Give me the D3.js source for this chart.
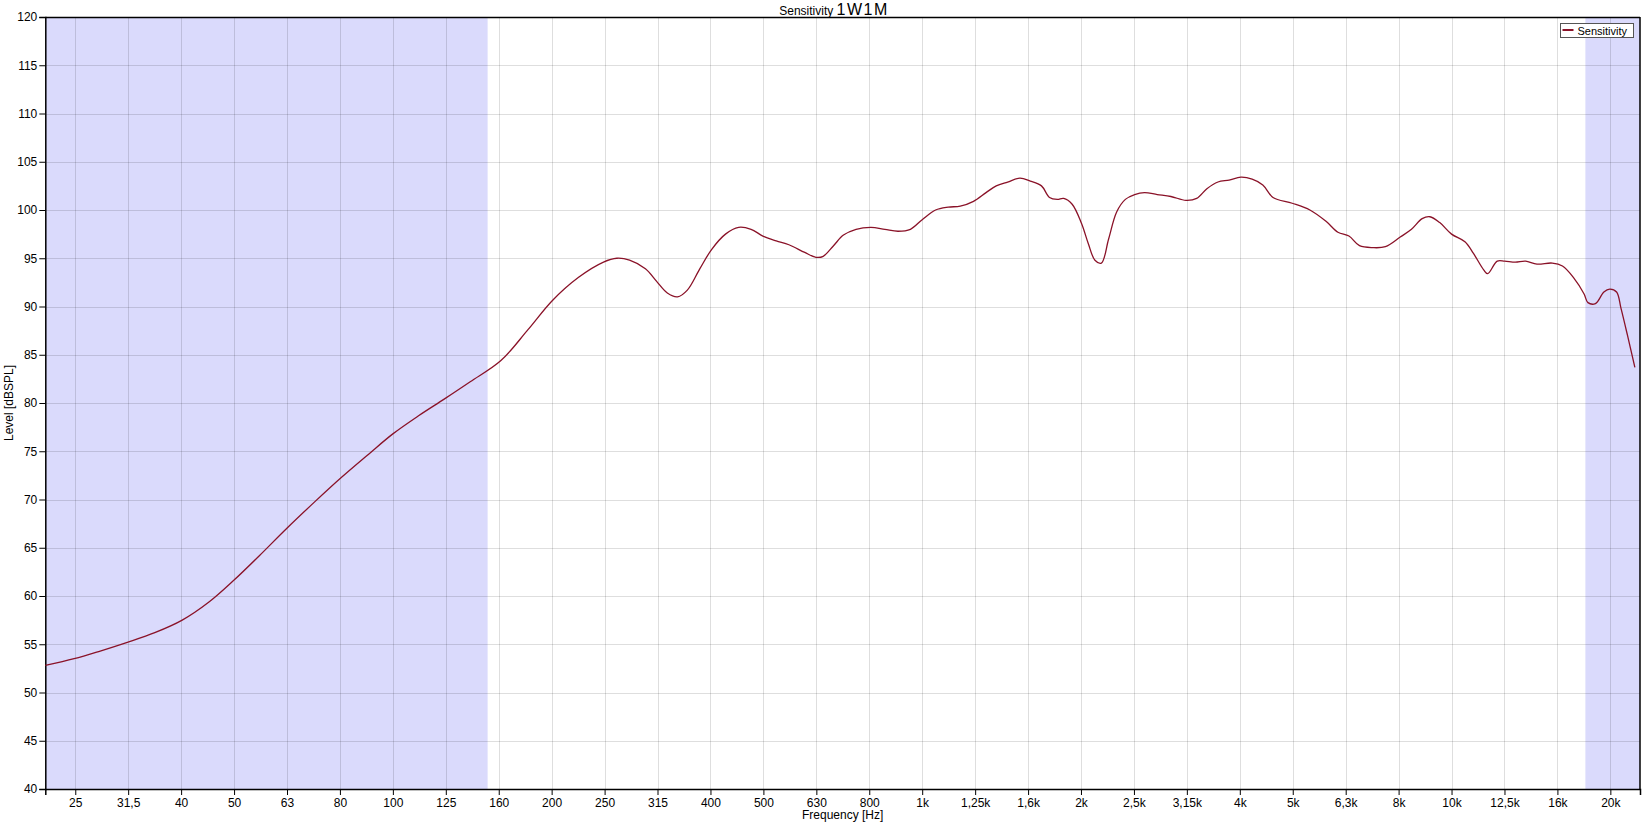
<!DOCTYPE html>
<html>
<head>
<meta charset="utf-8">
<script src="https://cdn.jsdelivr.net/npm/d3@7"></script>
<style>
  html, body { margin: 0; padding: 0; background: #fff; }
  svg { display: block; font-family: "Liberation Sans", Arial, sans-serif; }
</style>
</head>
<body>
<svg id="chart" width="1645" height="823"></svg>
<script>
// ---- data ----
const freqs = [22.05, 25, 28, 31.5, 35.5, 40, 45, 50, 56, 63, 71, 80, 90, 100, 112, 125, 140, 160, 180, 200, 224, 250, 265, 280, 300, 315, 330, 345, 360, 380, 400, 425, 450, 475, 500, 530, 560, 600, 630, 650, 680, 710, 750, 800, 850, 900, 950, 1000, 1060, 1120, 1180, 1250, 1320, 1380, 1450, 1530, 1600, 1680, 1740, 1800, 1850, 1920, 2000, 2060, 2120, 2180, 2250, 2330, 2420, 2520, 2630, 2780, 2950, 3150, 3300, 3450, 3620, 3800, 4000, 4200, 4400, 4600, 5000, 5400, 5800, 6100, 6400, 6700, 7100, 7500, 8000, 8400, 8800, 9100, 9500, 10000, 10600, 11000, 11500, 11700, 12200, 12600, 13200, 13800, 14500, 15500, 16200, 17000, 17800, 18100, 18700, 19400, 19900, 20500, 20900, 21500, 22200];
const levels = [52.8, 53.5, 54.3, 55.2, 56.2, 57.5, 59.4, 61.6, 64.2, 67.0, 69.7, 72.3, 74.7, 76.8, 78.7, 80.4, 82.2, 84.4, 87.6, 90.6, 93.0, 94.6, 95.0, 94.8, 93.9, 92.6, 91.4, 91.0, 91.7, 93.9, 95.9, 97.5, 98.2, 98.0, 97.3, 96.8, 96.4, 95.6, 95.1, 95.2, 96.3, 97.4, 98.0, 98.2, 98.0, 97.8, 98.0, 99.0, 100.0, 100.3, 100.4, 100.9, 101.8, 102.5, 102.9, 103.3, 103.0, 102.5, 101.3, 101.1, 101.2, 100.6, 98.6, 96.5, 94.8, 94.5, 97.0, 99.8, 101.1, 101.6, 101.8, 101.6, 101.4, 101.0, 101.2, 102.2, 102.9, 103.1, 103.4, 103.2, 102.6, 101.3, 100.7, 100.0, 98.8, 97.7, 97.3, 96.3, 96.1, 96.2, 97.2, 98.0, 99.1, 99.3, 98.7, 97.5, 96.7, 95.5, 93.8, 93.4, 94.7, 94.7, 94.6, 94.7, 94.4, 94.5, 94.2, 93.0, 91.3, 90.4, 90.3, 91.5, 91.8, 91.5, 89.8, 87.0, 83.7];

const xTickValues = [25.12, 31.62, 39.81, 50.12, 63.10, 79.43, 100, 125.9, 158.5, 199.5, 251.2, 316.2, 398.1, 501.2, 631.0, 794.3, 1000, 1259, 1585, 1995, 2512, 3162, 3981, 5012, 6310, 7943, 10000, 12589, 15849, 19953];
const xTickLabels = ["25", "31,5", "40", "50", "63", "80", "100", "125", "160", "200", "250", "315", "400", "500", "630", "800", "1k", "1,25k", "1,6k", "2k", "2,5k", "3,15k", "4k", "5k", "6,3k", "8k", "10k", "12,5k", "16k", "20k"];
const yTickValues = [40, 45, 50, 55, 60, 65, 70, 75, 80, 85, 90, 95, 100, 105, 110, 115, 120];
const shadedBands = [[22.05, 151], [17900, 22700]];

const seriesName = "Sensitivity";
const titleSmall = "Sensitivity";
const titleLarge = "1W1M";
const xLabel = "Frequency [Hz]";
const yLabel = "Level [dBSPL]";

// ---- layout ----
const L = 45.3, R = 1640, T = 17, B = 789;
const svg = d3.select("#chart");

const x = d3.scaleLog().domain([22.05, 22700]).range([L, R]);
const y = d3.scaleLinear().domain([40, 120]).range([B, T]);

// shaded bands
svg.append("g").selectAll("rect").data(shadedBands).join("rect")
  .attr("x", d => x(d[0]))
  .attr("y", T)
  .attr("width", d => x(d[1]) - x(d[0]))
  .attr("height", B - T)
  .attr("fill", "#dadafc");

// grid
const grid = svg.append("g");
grid.selectAll("line.v").data(xTickValues).join("line")
  .attr("class", "v")
  .attr("x1", d => Math.round(x(d)) + 0.5).attr("x2", d => Math.round(x(d)) + 0.5)
  .attr("y1", T).attr("y2", B)
  .attr("stroke", "rgba(0,0,0,0.13)").attr("stroke-width", 1);
grid.selectAll("line.h").data(yTickValues).join("line")
  .attr("class", "h")
  .attr("x1", L).attr("x2", R)
  .attr("y1", d => Math.round(y(d)) + 0.5).attr("y2", d => Math.round(y(d)) + 0.5)
  .attr("stroke", "rgba(0,0,0,0.13)").attr("stroke-width", 1);

// top & right borders
svg.append("line").attr("x1", L).attr("x2", R).attr("y1", T + 0.5).attr("y2", T + 0.5).attr("stroke", "#000").attr("stroke-width", 1.5);
svg.append("line").attr("x1", R).attr("x2", R).attr("y1", T).attr("y2", B).attr("stroke", "#000").attr("stroke-width", 1.5);

// axes
const xAxis = d3.axisBottom(x)
  .tickValues(xTickValues)
  .tickFormat((d, i) => xTickLabels[i])
  .tickSizeOuter(0).tickSize(6).tickPadding(3);
const gx = svg.append("g").attr("transform", `translate(0,${B})`).call(xAxis);
gx.select(".domain").attr("stroke", "#000").attr("stroke-width", 1.5);
gx.selectAll(".tick line").attr("stroke", "#000");
gx.selectAll("text").attr("font-size", 12).attr("fill", "#000").attr("font-family", "Liberation Sans, Arial, sans-serif");

const yAxis = d3.axisLeft(y)
  .tickValues(yTickValues)
  .tickFormat(d3.format("d"))
  .tickSizeOuter(0).tickSize(6).tickPadding(2);
const gy = svg.append("g").attr("transform", `translate(${L},0)`).call(yAxis);
gy.select(".domain").attr("stroke", "#000").attr("stroke-width", 1.5);
gy.selectAll(".tick line").attr("stroke", "#000");
gy.selectAll("text").attr("font-size", 12).attr("fill", "#000").attr("font-family", "Liberation Sans, Arial, sans-serif");

// curve
const pts = freqs.map((f, i) => [f, levels[i]]);
const line = d3.line()
  .x(d => x(d[0]))
  .y(d => y(d[1]))
  .curve(d3.curveCatmullRom.alpha(0.5));
svg.append("path")
  .datum(pts)
  .attr("d", line)
  .attr("fill", "none")
  .attr("stroke", "#8a1228")
  .attr("stroke-width", 1.3);

// title
const title = svg.append("text")
  .attr("x", 834).attr("y", 15)
  .attr("text-anchor", "middle")
  .attr("fill", "#000");
title.append("tspan").attr("font-size", 12).text(titleSmall + " ");
title.append("tspan").attr("font-size", 16).attr("letter-spacing", 1.5).text(titleLarge);

// axis labels
svg.append("text")
  .attr("x", (L + R) / 2).attr("y", 819)
  .attr("text-anchor", "middle")
  .attr("font-size", 12)
  .text(xLabel);
svg.append("text")
  .attr("transform", `translate(13,${(T + B) / 2}) rotate(-90)`)
  .attr("text-anchor", "middle")
  .attr("font-size", 12)
  .text(yLabel);

// legend
const lg = svg.append("g").attr("transform", "translate(1560.5,23.5)");
lg.append("rect").attr("width", 73).attr("height", 14)
  .attr("fill", "#fff").attr("stroke", "#555").attr("stroke-width", 1);
lg.append("line").attr("x1", 2).attr("x2", 13).attr("y1", 6.5).attr("y2", 6.5)
  .attr("stroke", "#8a1228").attr("stroke-width", 2);
lg.append("text").attr("x", 17).attr("y", 11).attr("font-size", 11).text(seriesName);
</script>
</body>
</html>
